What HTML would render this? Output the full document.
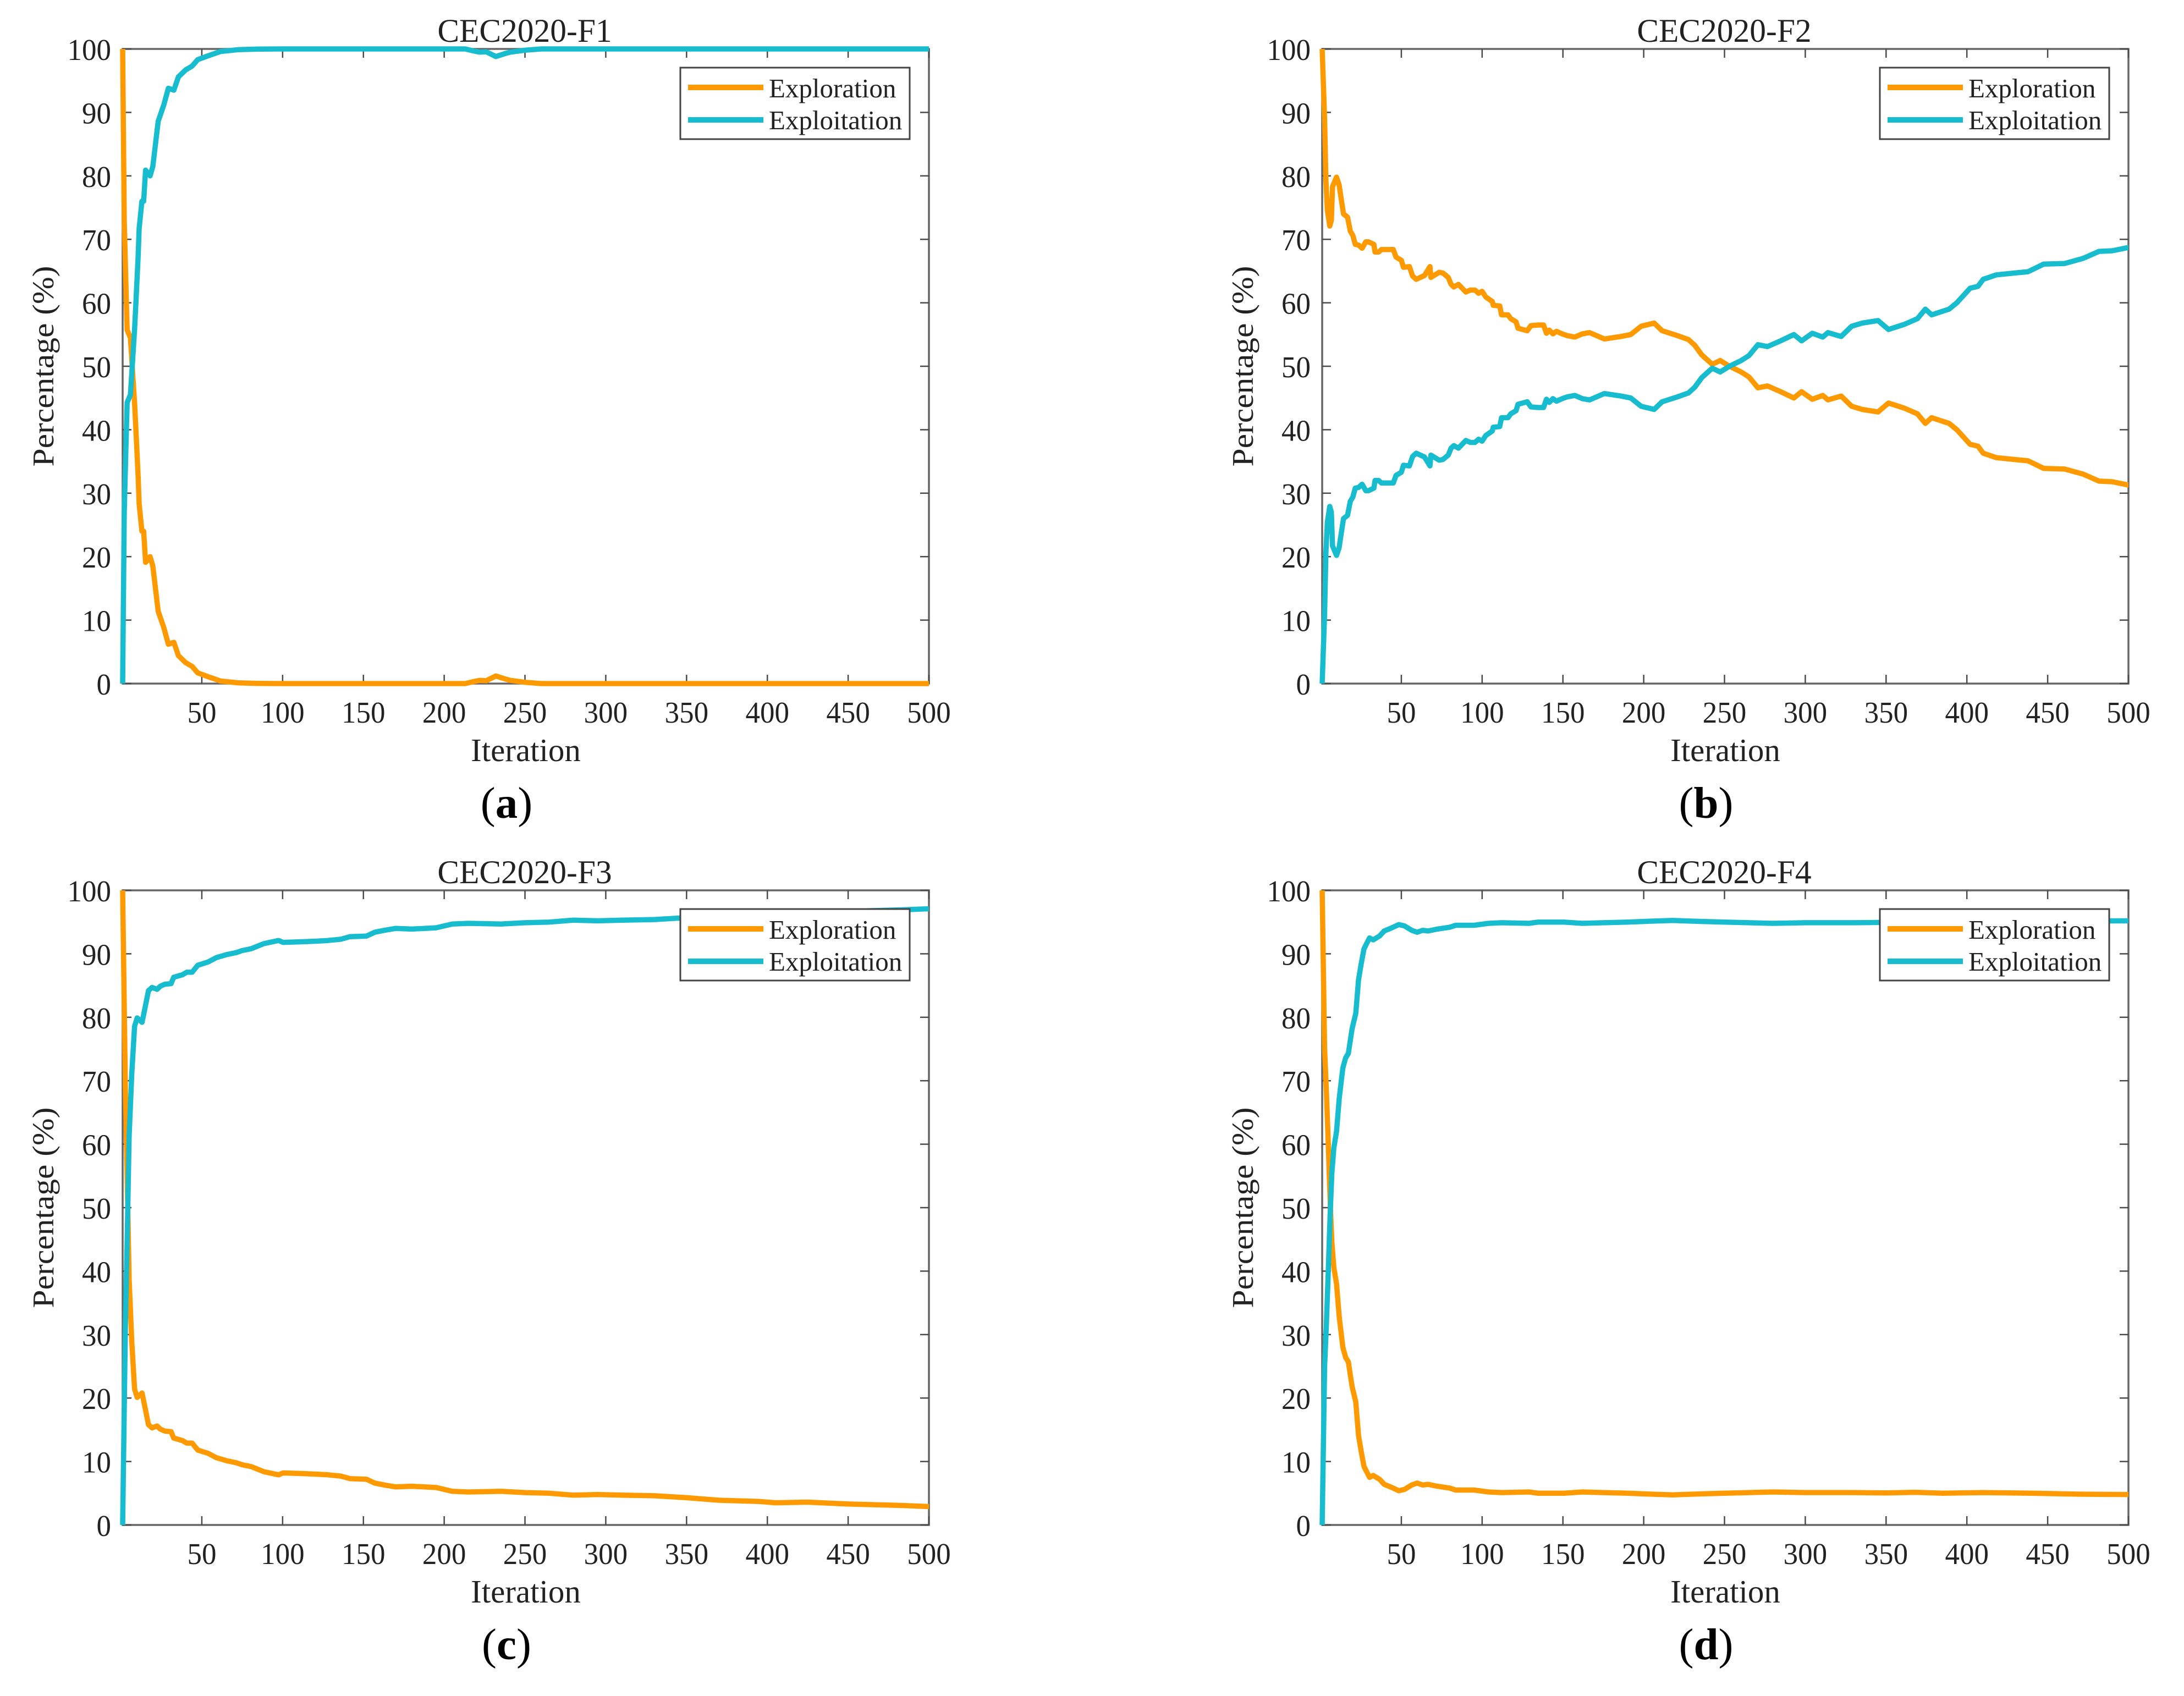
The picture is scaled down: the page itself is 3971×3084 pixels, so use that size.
<!DOCTYPE html>
<html lang="en">
<head>
<meta charset="utf-8">
<title>CEC2020 exploration and exploitation percentage charts</title>
<style>
html,body{margin:0;padding:0;background:#fff;width:3971px;height:3084px;overflow:hidden}
svg{display:block}
text{font-family:"Liberation Serif",serif;fill:#222}
</style>
</head>
<body>
<svg id="figure" xmlns="http://www.w3.org/2000/svg" width="3971" height="3084" viewBox="0 0 3971 3084"></svg>
<script>
const f1Iterations = [1,2,3.3,3.8,5.8,8.4,9.5,10.6,11.2,12.9,14,15.2,18,19.7,23,26.5,29.3,32.7,35.5,40,44,47.4,53.7,61.6,73,85,100,213,218,222,226,232,238,241,250,260,500];
const f1Exploration = [100,73,60,55.7,54.5,44.2,38.4,32.6,28.3,24,24,19.1,20,18.5,11.4,8.8,6.2,6.5,4.4,3.3,2.7,1.7,1.1,0.4,0.1,0.03,0,0,0.3,0.5,0.45,1.2,0.7,0.5,0.2,0,0];
const f1Exploitation = [0,27,40,44.3,45.5,55.8,61.6,67.4,71.7,76,76,80.9,80,81.5,88.6,91.2,93.8,93.5,95.6,96.7,97.3,98.3,98.9,99.6,99.9,99.97,100,100,99.7,99.5,99.55,98.8,99.3,99.5,99.8,100,100];

const f2Iterations = [1,2.5,3.3,4.2,5.7,6.7,7.4,9.9,11.5,12.4,
14.2,16.7,18.4,20,21.5,23.5,25.7,28,29.7,33,
33.7,36,37.7,45,46.7,50,51.3,55,57,59.2,
64.3,67.7,68.3,73.4,75.7,79,80.8,82.5,85.3,89.9,
92.7,95.6,97.8,100,102.3,106.3,106.9,110.9,112,116,
117.7,121,122.2,127.9,130.2,134.7,138,139.8,141.5,143.8,
146,149.5,153,157.4,162,166.5,175.6,186,192,198.4,
206.5,211.4,221.2,227.7,231.6,235.9,242.4,247.3,253.1,260.3,
265.2,270.7,276.6,284.7,292.9,297.7,304.3,310.8,314,322.2,
328.7,335.2,345,351.5,361.3,369.4,374.3,378.2,389,393.8,
402,406.9,410.1,418.3,429.7,437.8,447.6,460.6,472,481.8,
490,499.7,500];
const f2Exploration = [100,89,79.3,74.6,72.1,73,78.3,79.8,78.6,77,
74,73.5,71.3,70.6,69.2,69.1,68.6,69.6,69.6,69.2,
68,68,68.4,68.4,67.2,66.7,65.6,65.7,64.2,63.7,
64.3,65.7,64,64.8,64.7,64,62.9,62.5,62.9,61.7,
62,62,61.5,61.8,60.9,60.2,59.6,59.5,58.1,58.1,
57.5,57,56,55.6,56.4,56.5,56.5,55.2,55.7,55.1,
55.5,55.1,54.8,54.6,55.1,55.3,54.3,54.7,55,56.3,
56.8,55.6,54.8,54.2,53.3,51.8,50.3,50.9,50,49.1,
48.3,46.6,46.9,46,45,46,44.8,45.4,44.7,45.3,
43.7,43.2,42.8,44.2,43.4,42.5,41,41.9,41,40,
37.7,37.4,36.3,35.6,35.3,35.1,33.9,33.8,33,31.9,
31.8,31.3,31.3];
const f2Exploitation = [0,11,20.7,25.4,27.9,27,21.7,20.2,21.4,23,
26,26.5,28.7,29.4,30.8,30.9,31.4,30.4,30.4,30.8,
32,32,31.6,31.6,32.8,33.3,34.4,34.3,35.8,36.3,
35.7,34.3,36,35.2,35.3,36,37.1,37.5,37.1,38.3,
38,38,38.5,38.2,39.1,39.8,40.4,40.5,41.9,41.9,
42.5,43,44,44.4,43.6,43.5,43.5,44.8,44.3,44.9,
44.5,44.9,45.2,45.4,44.9,44.7,45.7,45.3,45,43.7,
43.2,44.4,45.2,45.8,46.7,48.2,49.7,49.1,50,50.9,
51.7,53.4,53.1,54,55,54,55.2,54.6,55.3,54.7,
56.3,56.8,57.2,55.8,56.6,57.5,59,58.1,59,60,
62.3,62.6,63.7,64.4,64.7,64.9,66.1,66.2,67,68.1,
68.2,68.7,68.7];

const f3Iterations = [1,2.7,3.8,5,6.7,8.4,10,13,14.6,17,
19.2,22.3,24.3,27,31,32.6,38,40.7,44,47.5,
53.8,59,65.7,71.4,74.8,80.5,88.4,97.5,100.3,112,
122,128,136,141.7,152,157,163,170,180,195,
205,215,235,250,265,280,295,310,330,350,
370,395,405,425,450,480,500];
const f3Exploration = [100,68.5,55.2,38.7,28.7,21.4,20.1,20.8,18.8,15.8,
15.3,15.6,15.1,14.8,14.7,13.7,13.3,12.9,12.9,11.8,
11.3,10.6,10.1,9.8,9.5,9.2,8.4,7.9,8.2,8.1,
8,7.9,7.7,7.3,7.2,6.6,6.3,6,6.1,5.9,
5.3,5.2,5.3,5.1,5,4.7,4.8,4.7,4.6,4.3,
3.9,3.7,3.5,3.6,3.3,3.1,2.9];
const f3Exploitation = [0,31.5,44.8,61.3,71.3,78.6,79.9,79.2,81.2,84.2,
84.7,84.4,84.9,85.2,85.3,86.3,86.7,87.1,87.1,88.2,
88.7,89.4,89.9,90.2,90.5,90.8,91.6,92.1,91.8,91.9,
92,92.1,92.3,92.7,92.8,93.4,93.7,94,93.9,94.1,
94.7,94.8,94.7,94.9,95,95.3,95.2,95.3,95.4,95.7,
96.1,96.3,96.5,96.4,96.7,96.9,97.1];

const f4Iterations = [1,2.5,3.6,4.7,5.9,7,8.2,9.9,11.6,13.8,
15.5,17.2,19.5,21.8,23.5,25.2,26.9,30.3,32.6,36.5,
39.4,43.3,48.4,51.9,56.4,59.8,63.2,66.6,72.3,80.2,
83.6,95,104,112,129,134.7,150.7,162,175,190,
205,218,235,250,265,280,300,330,350,368,
385,410,440,470,500];
const f4Exploration = [100,75.1,68.5,60.5,51.3,44.6,40.6,38,32.7,28,
26.4,25.7,21.8,19.4,14.1,11.5,9.2,7.5,7.8,7.2,
6.4,6,5.4,5.6,6.3,6.6,6.3,6.4,6.1,5.8,
5.5,5.5,5.2,5.1,5.2,5,5,5.2,5.1,5,
4.85,4.75,4.9,5,5.1,5.2,5.1,5.1,5.05,5.15,
5,5.1,5,4.85,4.8];
const f4Exploitation = [0,24.9,31.5,39.5,48.7,55.4,59.4,62,67.3,72,
73.6,74.3,78.2,80.6,85.9,88.5,90.8,92.5,92.2,92.8,
93.6,94,94.6,94.4,93.7,93.4,93.7,93.6,93.9,94.2,
94.5,94.5,94.8,94.9,94.8,95,95,94.8,94.9,95,
95.15,95.25,95.1,95,94.9,94.8,94.9,94.9,94.95,94.85,
95,94.9,95,95.15,95.2];

const panelTitles = ['CEC2020-F1','CEC2020-F2','CEC2020-F3','CEC2020-F4'];
const panelLetters = ['a','b','c','d'];
const xTicks = [50,100,150,200,250,300,350,400,450,500];
const yTicks = [0,10,20,30,40,50,60,70,80,90,100];
const seriesNames = ['Exploration','Exploitation'];
const xAxisTitle = 'Iteration';
const yAxisTitle = 'Percentage (%)';

const NS = 'http://www.w3.org/2000/svg';
const svg = document.getElementById('figure');
const ORANGE = '#ff9900';
const CYAN = '#17bccf';
const AXIS = '#666';
const TICK = '#4a4a4a';
const PW = 1466, PH = 1154, X_MIN = 1, X_MAX = 500, Y_MIN = 0, Y_MAX = 100;

function make(tag, attrs, parent) {
  const el = document.createElementNS(NS, tag);
  for (const k in attrs) el.setAttribute(k, attrs[k]);
  parent.appendChild(el);
  return el;
}
function label(parent, str, x, y, size, anchor, sx, sy, rot) {
  const t = make('text', {
    'font-size': size,
    'text-anchor': anchor,
    transform: 'translate(' + x + ',' + y + ')' + (rot ? ' rotate(' + rot + ')' : '') + ' scale(' + sx + ',' + sy + ')'
  }, parent);
  t.textContent = str;
  return t;
}

function drawPanel(index, left, top, iterations, exploration, exploitation) {
  const xAxis = v => left + (v - X_MIN) * PW / (X_MAX - X_MIN);
  const yAxis = v => top + PH * (1 - (v - Y_MIN) / (Y_MAX - Y_MIN));
  const right = left + PW, bottom = top + PH;
  const key = 'f' + (index + 1);

  const g = make('g', {}, svg);
  
  

  const frame = make('rect', {x: left, y: top, width: PW, height: PH, fill: 'none', stroke: AXIS, 'stroke-width': 3.5}, g);
  
  

  xTicks.forEach(v => {
    const x = xAxis(v);
    const tb = make('line', {x1: x, x2: x, y1: bottom, y2: bottom - 16, stroke: TICK, 'stroke-width': 2.5}, g);
    
    
    const tt = make('line', {x1: x, x2: x, y1: top, y2: top + 16, stroke: TICK, 'stroke-width': 2.5}, g);
    
    
    const lb = label(g, String(v), x, bottom + 71, 53, 'middle', 1, 1.04);
    
    
  });
  yTicks.forEach(v => {
    const y = yAxis(v);
    const tl = make('line', {x1: left, x2: left + 16, y1: y, y2: y, stroke: TICK, 'stroke-width': 2.5}, g);
    
    
    const tr = make('line', {x1: right, x2: right - 16, y1: y, y2: y, stroke: TICK, 'stroke-width': 2.5}, g);
    
    
    const lb = label(g, String(v), left - 21, y + 20, 53, 'end', 1, 1.04);
    
    
  });

  const toPath = vals => iterations.map((it, i) => (i ? 'L' : 'M') + xAxis(it).toFixed(1) + ' ' + yAxis(vals[i]).toFixed(1)).join('');

  const lineA = make('path', {d: toPath(exploration), fill: 'none', stroke: ORANGE, 'stroke-width': 9.5, 'stroke-linejoin': 'round'}, g);
  
  

  const lineB = make('path', {d: toPath(exploitation), fill: 'none', stroke: CYAN, 'stroke-width': 9.5, 'stroke-linejoin': 'round'}, g);
  
  

  const title = label(g, panelTitles[index], left + PW / 2 - 2, top - 13, 59.5, 'middle', 1, 1.01);
  
  

  const xt = label(g, xAxisTitle, left + PW / 2, bottom + 141, 59, 'middle', 1, 1);
  
  

  const yt = label(g, yAxisTitle, left - 126, top + PH / 2, 59.5, 'middle', 1, 0.93, -90);
  
  

  const cap = make('text', {'font-size': 81, 'text-anchor': 'middle', x: left + PW / 2 - 35, y: bottom + 244, style: 'fill:#000'}, g);
  
  
  const c1 = make('tspan', {}, cap);
  c1.textContent = '(';
  const c2 = make('tspan', {'font-weight': 'bold'}, cap);
  c2.textContent = panelLetters[index];
  const c3 = make('tspan', {}, cap);
  c3.textContent = ')';

  const lg = make('g', {}, g);
  
  
  const lx = left + 1014, ly = top + 34;
  const box = make('rect', {x: lx, y: ly, width: 417, height: 130, fill: '#fff', stroke: '#444', 'stroke-width': 3}, lg);
  
  

  const swatchA = make('line', {x1: lx + 14, x2: lx + 151, y1: ly + 36, y2: ly + 36, stroke: ORANGE, 'stroke-width': 10}, lg);
  
  
  const textA = label(lg, seriesNames[0], lx + 161, ly + 54, 49, 'start', 1, 1);
  
  

  const swatchB = make('line', {x1: lx + 14, x2: lx + 151, y1: ly + 95, y2: ly + 95, stroke: CYAN, 'stroke-width': 10}, lg);
  
  
  const textB = label(lg, seriesNames[1], lx + 161, ly + 112, 49, 'start', 1, 1);
  
  
}

drawPanel(0, 223, 89, f1Iterations, f1Exploration, f1Exploitation);
drawPanel(1, 2404, 89, f2Iterations, f2Exploration, f2Exploitation);
drawPanel(2, 223, 1619, f3Iterations, f3Exploration, f3Exploitation);
drawPanel(3, 2404, 1619, f4Iterations, f4Exploration, f4Exploitation);
</script>
</body>
</html>
